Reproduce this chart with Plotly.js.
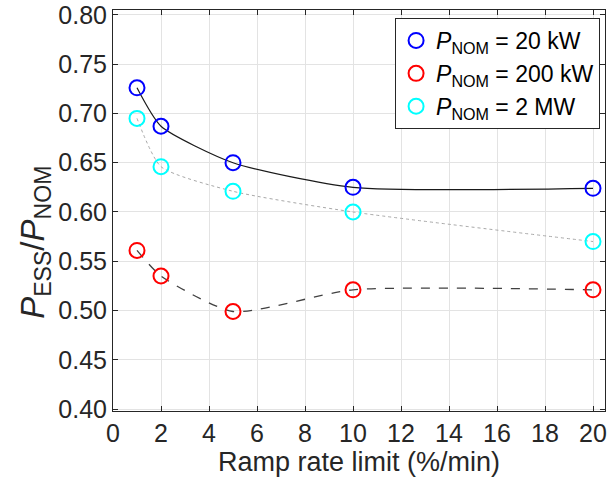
<!DOCTYPE html>
<html>
<head>
<meta charset="utf-8">
<script src="https://cdn.plot.ly/plotly-3.0.1.min.js"></script>
<style>html,body{margin:0;padding:0;background:#fff;}#chart{width:614px;height:485px;}</style>
</head>
<body>
<div id="chart"></div>
<script>
// Data
const rampRate = [1, 2, 5, 10, 20];
const p20kW  = [0.726, 0.687, 0.650, 0.625, 0.624];
const p200kW = [0.561, 0.535, 0.499, 0.521, 0.521];
const p2MW   = [0.695, 0.646, 0.621, 0.600, 0.570];
const seriesNames = [
  '<i>P</i><sub>NOM</sub> = 20 kW',
  '<i>P</i><sub>NOM</sub> = 200 kW',
  '<i>P</i><sub>NOM</sub> = 2 MW'
];
const xTicks = [0, 2, 4, 6, 8, 10, 12, 14, 16, 18, 20];
const yTicks = [0.40, 0.45, 0.50, 0.55, 0.60, 0.65, 0.70, 0.75, 0.80];

const FONT = 'Liberation Sans, Arial, Helvetica, sans-serif';
const TXT = '#262626';

function lineTrace(y, color, dash, width) {
  return {x: rampRate, y: y, mode: 'lines', showlegend: false, hoverinfo: 'skip',
    line: {shape: 'spline', smoothing: 0.6, color: color, dash: dash, width: width}};
}
function markerTrace(y, name, color) {
  return {x: rampRate, y: y, mode: 'markers', name: name,
    marker: {symbol: 'circle-open', size: 15, color: color, line: {width: 2, color: color}}};
}

const data = [
  lineTrace(p20kW, '#1a1a1a', 'solid', 1.2),
  lineTrace(p200kW, '#404040', 'dash', 1.3),
  lineTrace(p2MW, '#a8a8a8', 'dot', 1),
  markerTrace(p20kW, seriesNames[0], '#0000ff'),
  markerTrace(p200kW, seriesNames[1], '#ff0000'),
  markerTrace(p2MW, seriesNames[2], '#00ffff')
];

const axisCommon = {
  automargin: false,
  showline: true, linecolor: TXT, linewidth: 1, mirror: 'ticks',
  ticks: 'inside', ticklen: 5, tickcolor: TXT,
  showgrid: true, gridcolor: '#e3e3e3', gridwidth: 1,
  zeroline: false,
  tickfont: {family: FONT, size: 25, color: TXT}
};

const layout = {
  width: 614, height: 485,
  margin: {l: 113, r: 9, t: 10, b: 74, autoexpand: false},
  paper_bgcolor: '#fff', plot_bgcolor: '#fff',
  font: {family: FONT, color: TXT},
  xaxis: Object.assign({}, axisCommon, {
    range: [0, 20.5], tickvals: xTicks, ticktext: xTicks.map(String),
    title: {text: 'Ramp rate limit (%/min)', font: {family: FONT, size: 27, color: TXT}, standoff: 4}
  }),
  yaxis: Object.assign({}, axisCommon, {
    range: [0.398, 0.805], tickvals: yTicks, ticktext: yTicks.map(v => v.toFixed(2))
  }),
  legend: {
    x: 0.99, y: 0.98, xanchor: 'right', yanchor: 'top',
    bgcolor: '#fff', bordercolor: TXT, borderwidth: 1,
    font: {family: FONT, size: 23, color: '#000'},
    itemsizing: 'trace', tracegroupgap: 0, itemwidth: 30
  },
  annotations: [{
    xref: 'paper', yref: 'paper', x: -0.16, y: 0.42,
    xanchor: 'center', yanchor: 'middle', textangle: -90, showarrow: false,
    text: '<i>P</i><sub>ESS</sub>/<i>P</i><sub>NOM</sub>',
    font: {family: FONT, size: 33, color: TXT}
  }]
};

Plotly.newPlot('chart', data, layout, {displayModeBar: false, staticPlot: true});
</script>
</body>
</html>
